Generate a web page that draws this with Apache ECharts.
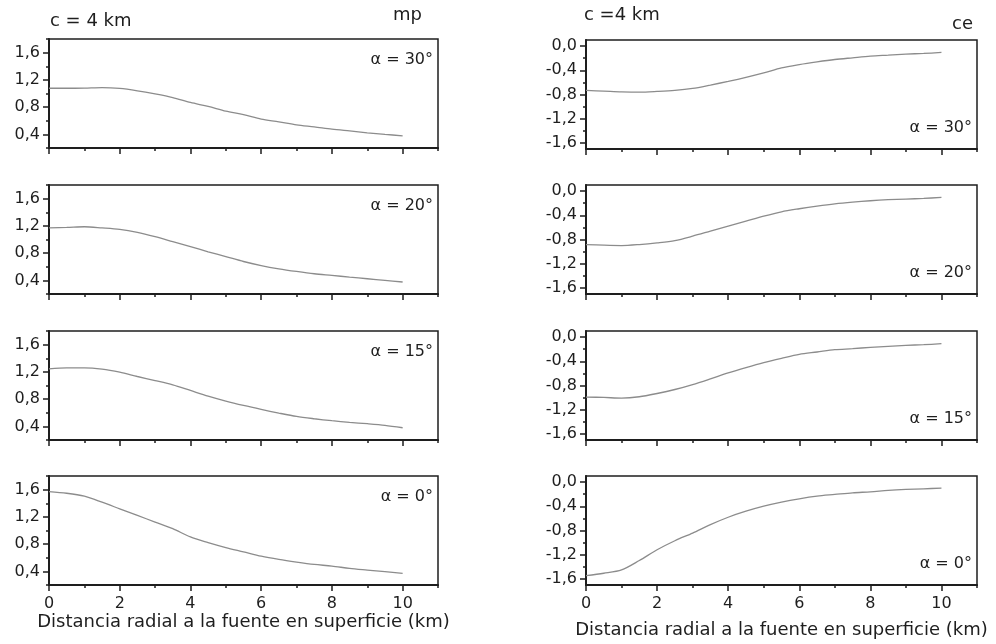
<!DOCTYPE html>
<html>
<head>
<meta charset="utf-8">
<script src="https://cdn.jsdelivr.net/npm/echarts@6/dist/echarts.min.js"></script>
<style>html,body{margin:0;padding:0;background:#fff}#c{width:996px;height:644px}</style>
</head>
<body>
<div id="c"></div>
<script>
// ---- data ----
const xKm = [0,0.5,1,1.5,2,2.5,3,3.5,4,4.5,5,5.5,6,6.5,7,7.5,8,8.5,9,9.5,10];

const mp30 = [1.077,1.077,1.08,1.087,1.075,1.04,0.994,0.94,0.868,0.81,0.741,0.69,0.623,0.585,0.54,0.51,0.477,0.45,0.423,0.40,0.379];
const mp20 = [1.172,1.177,1.187,1.17,1.148,1.104,1.041,0.968,0.895,0.82,0.75,0.677,0.618,0.57,0.531,0.497,0.473,0.448,0.424,0.40,0.376];
const mp15 = [1.244,1.259,1.259,1.24,1.195,1.132,1.073,1.01,0.927,0.844,0.771,0.707,0.649,0.595,0.546,0.512,0.483,0.459,0.439,0.415,0.38];
const mp0  = [1.571,1.547,1.503,1.415,1.318,1.221,1.124,1.027,0.905,0.823,0.75,0.687,0.623,0.575,0.536,0.502,0.478,0.444,0.419,0.395,0.371];

const ce30 = [-0.733,-0.744,-0.756,-0.761,-0.75,-0.733,-0.70,-0.644,-0.583,-0.517,-0.444,-0.361,-0.306,-0.261,-0.222,-0.194,-0.167,-0.15,-0.133,-0.122,-0.106];
const ce20 = [-0.883,-0.894,-0.90,-0.883,-0.855,-0.817,-0.745,-0.662,-0.579,-0.497,-0.414,-0.342,-0.292,-0.248,-0.21,-0.182,-0.16,-0.143,-0.132,-0.121,-0.105];
const ce15 = [-0.992,-0.997,-1.008,-0.986,-0.932,-0.866,-0.784,-0.69,-0.592,-0.504,-0.422,-0.351,-0.285,-0.247,-0.208,-0.192,-0.17,-0.153,-0.137,-0.126,-0.11];
const ce0  = [-1.545,-1.506,-1.451,-1.296,-1.118,-0.969,-0.842,-0.703,-0.581,-0.482,-0.399,-0.332,-0.277,-0.233,-0.205,-0.177,-0.161,-0.138,-0.122,-0.111,-0.10];

const alphaLabels = ['\u03b1 = 30\u00b0','\u03b1 = 20\u00b0','\u03b1 = 15\u00b0','\u03b1 = 0\u00b0'];
const mpSeries = [mp30, mp20, mp15, mp0];
const ceSeries = [ce30, ce20, ce15, ce0];

const xMajor = [0,2,4,6,8,10];
const xMinor = [1,3,5,7,9,11];
const mpMajor = [0.4,0.8,1.2,1.6];
const mpMinor = [0.2,0.6,1.0,1.4,1.8];
const ceMajor = [-1.6,-1.2,-0.8,-0.4,0.0];
const ceMinor = [-1.4,-1.0,-0.6,-0.2];
const xTitle = 'Distancia radial a la fuente en superficie (km)';

// ---- layout ----
const FONT = 'DejaVu Sans';
const INK = '#1e1e1e';
const LINE = '#8c8c8c';
const panelsL = {left: 49, width: 389, tops: [39,185,331,476], h: 109};
const panelsR = {left: 586, width: 391, tops: [40,185,331,476], h: 109};

const fmt = v => (Math.abs(v) < 1e-9 ? 0 : v).toFixed(1).replace('.', ',');

const grid = [], xAxis = [], yAxis = [], series = [], graphic = [];

function addPanel(p, i, data, yMin, yMax, yMajor, yMinor, bottom, nameGap, labelY) {
  const g = grid.length;
  grid.push({left: p.left, top: p.tops[i], width: p.width, height: p.h,
    show: true, borderColor: INK, borderWidth: 1.5, containLabel: false});
  const xi = xAxis.length;
  xAxis.push({type: 'value', gridIndex: g, min: 0, max: 11, position: 'bottom',
    axisLine: {show: true, onZero: false, lineStyle: {color: INK, width: 2}},
    axisTick: {show: true, customValues: xMajor, length: 6, lineStyle: {color: INK, width: 1.5}},
    axisLabel: {show: bottom, customValues: xMajor, fontSize: 16, color: INK, fontFamily: FONT, margin: 11},
    splitLine: {show: false},
    name: bottom ? xTitle : '', nameLocation: 'middle', nameGap: nameGap,
    nameTextStyle: {fontSize: 18, color: INK, fontFamily: FONT}
  });
  xAxis.push({type: 'value', gridIndex: g, min: 0, max: 11, position: 'bottom',
    axisLine: {show: false, onZero: false},
    axisTick: {show: true, customValues: xMinor, length: 3, lineStyle: {color: INK, width: 1.5}},
    axisLabel: {show: false}, splitLine: {show: false}
  });
  const yi = yAxis.length;
  yAxis.push({type: 'value', gridIndex: g, min: yMin, max: yMax, position: 'left',
    axisLine: {show: true, onZero: false, lineStyle: {color: INK, width: 2}},
    axisTick: {show: true, customValues: yMajor, length: 6, lineStyle: {color: INK, width: 1.5}},
    axisLabel: {show: true, customValues: yMajor, fontSize: 16, color: INK, fontFamily: FONT, margin: 9, formatter: fmt},
    splitLine: {show: false}
  });
  yAxis.push({type: 'value', gridIndex: g, min: yMin, max: yMax, position: 'left',
    axisLine: {show: false, onZero: false},
    axisTick: {show: true, customValues: yMinor, length: 3, lineStyle: {color: INK, width: 1.5}},
    axisLabel: {show: false}, splitLine: {show: false}
  });
  series.push({type: 'line', xAxisIndex: xi, yAxisIndex: yi, showSymbol: false, symbol: 'none',
    smooth: 0.3,
    data: xKm.map((x, k) => [x, data[k]]),
    lineStyle: {color: LINE, width: 1.3}, silent: true, animation: false});
  graphic.push({type: 'text', x: p.left + p.width - 5, y: p.tops[i] + labelY,
    style: {text: alphaLabels[i], fill: INK, font: '16px "' + FONT + '"', textAlign: 'right', textVerticalAlign: 'middle'}});
}

for (let i = 0; i < 4; i++) {
  addPanel(panelsL, i, mpSeries[i], 0.2, 1.8, mpMajor, mpMinor, i === 3, 28, 21);
  addPanel(panelsR, i, ceSeries[i], -1.7, 0.1, ceMajor, ceMinor, i === 3, 36, 88);
}

graphic.push({type: 'text', x: 50, y: 21, style: {text: 'c = 4 km', fill: INK, font: '18px "' + FONT + '"', textVerticalAlign: 'middle'}});
graphic.push({type: 'text', x: 393, y: 15, style: {text: 'mp', fill: INK, font: '18px "' + FONT + '"', textVerticalAlign: 'middle'}});
graphic.push({type: 'text', x: 584, y: 15, style: {text: 'c =4 km', fill: INK, font: '18px "' + FONT + '"', textVerticalAlign: 'middle'}});
graphic.push({type: 'text', x: 952, y: 24, style: {text: 'ce', fill: INK, font: '18px "' + FONT + '"', textVerticalAlign: 'middle'}});

const chart = echarts.init(document.getElementById('c'), null, {renderer: 'canvas'});
chart.setOption({
  animation: false,
  backgroundColor: '#fff',
  textStyle: {fontFamily: FONT},
  grid, xAxis, yAxis, series, graphic
});
</script>
</body>
</html>
